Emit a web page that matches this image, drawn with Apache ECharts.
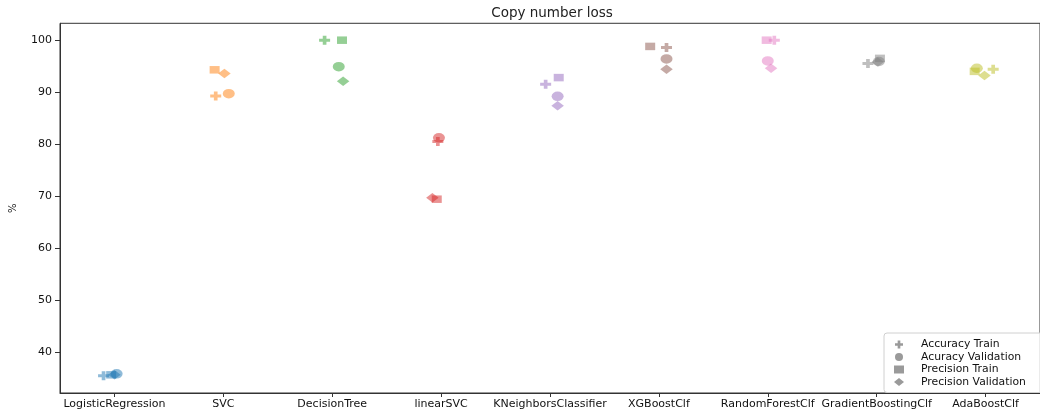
<!DOCTYPE html>
<html>
<head>
<meta charset="utf-8">
<script src="https://cdn.jsdelivr.net/npm/echarts@6/dist/echarts.min.js"></script>
<style>
  html, body { margin: 0; padding: 0; background: #fff; }
  #chart { width: 1040px; height: 410px; }
</style>
</head>
<body>
<div id="chart"></div>
<script>
// Classifiers compared on the copy-number-loss task
const categories = ['LogisticRegression', 'SVC', 'DecisionTree', 'linearSVC', 'KNeighborsClassifier',
  'XGBoostClf', 'RandomForestClf', 'GradientBoostingClf', 'AdaBoostClf'];

// Scores in percent, one value per classifier
const accuracyTrain       = [35.4, 89.25, 100.0, 80.5, 91.5, 98.6, 100.0, 95.5, 94.4];
const accuracyValidation  = [35.8, 89.7,  94.9,  81.2, 89.2, 96.4, 96.0,  95.9, 94.6];
const precisionTrain      = [35.6, 94.3, 100.0,  69.4, 92.8, 98.8, 100.0, 96.5, 94.0];
const precisionValidation = [35.6, 93.6,  92.1,  69.7, 87.4, 94.4, 94.6,  95.8, 93.2];

// Strip-plot jitter, in category units
const jitterAccTrain  = [-0.10, -0.07, -0.07, -0.03, -0.04,  0.07,  0.06, -0.08,  0.07];
const jitterAccVal    = [ 0.02,  0.05,  0.06, -0.02,  0.07,  0.07,  0.00,  0.02, -0.08];
const jitterPrecTrain = [-0.03, -0.08,  0.09, -0.04,  0.08, -0.08, -0.01,  0.03, -0.10];
const jitterPrecVal   = [ 0.00,  0.01,  0.10, -0.08,  0.07,  0.07,  0.03,  0.01, -0.01];

const yTicks = [40, 50, 60, 70, 80, 90, 100];

const palette = ['#1f77b4', '#ff7f0e', '#2ca02c', '#d62728', '#9467bd',
  '#8c564b', '#e377c2', '#7f7f7f', '#bcbd22'];

const FONT = 'DejaVu Sans';
const plusPath = 'path://M-1,-3H1V-1H3V1H1V3H-1V1H-3V-1H-1Z';

function points(values, jitter) {
  return values.map((v, i) => ({
    value: [i + jitter[i], v],
    itemStyle: { color: palette[i], opacity: 0.5 }
  }));
}

function scatter(name, symbol, size, values, jitter) {
  return {
    name, type: 'scatter', symbol, symbolSize: size,
    symbolKeepAspect: false,
    itemStyle: { color: '#9a9a9a', opacity: 1 },
    data: points(values, jitter),
    emphasis: { disabled: true }
  };
}

const chart = echarts.init(document.getElementById('chart'), null, { renderer: 'canvas' });
chart.setOption({
  animation: false,
  backgroundColor: '#fff',
  title: {
    text: 'Copy number loss',
    left: 552, top: 6, padding: 0,
    textAlign: 'center',
    textStyle: { fontFamily: FONT, fontSize: 13.5, fontWeight: 'normal', color: '#222' }
  },
  grid: {
    left: 60, right: -5, top: 23.3, bottom: 15,
    show: true, borderColor: '#333', borderWidth: 1, backgroundColor: 'transparent'
  },
  xAxis: {
    type: 'value', min: -0.5, max: 8.5, position: 'bottom',
    splitLine: { show: false },
    axisLine: { show: true, onZero: false, lineStyle: { color: '#333' } },
    axisTick: { show: true, inside: false, length: 4, lineStyle: { color: '#333' }, customValues: categories.map((c, i) => i) },
    axisLabel: {
      inside: false,
      customValues: categories.map((c, i) => i),
      formatter: v => categories[Math.round(v)],
      margin: 6, fontFamily: FONT, fontSize: 11, color: '#111'
    }
  },
  yAxis: {
    type: 'value', min: 32.1, max: 103.25, position: 'left',
    name: '%', nameLocation: 'middle', nameRotate: 90, nameGap: 42,
    nameTextStyle: { fontFamily: FONT, fontSize: 10, color: '#111' },
    splitLine: { show: false },
    axisLine: { show: true, onZero: false, lineStyle: { color: '#333' } },
    axisTick: { show: true, inside: false, length: 5, lineStyle: { color: '#333' }, customValues: yTicks },
    axisLabel: { inside: false, customValues: yTicks, margin: 8, fontFamily: FONT, fontSize: 11, color: '#111' }
  },
  legend: {
    orient: 'vertical',
    left: 884, top: 333,
    padding: [6, 30, 5, 10],
    itemWidth: 10, itemHeight: 8, itemGap: 1.5,
    borderColor: '#d0d0d0', borderWidth: 1, borderRadius: 3,
    backgroundColor: 'rgba(255,255,255,0.8)',
    textStyle: { fontFamily: FONT, fontSize: 10.8, color: '#111', padding: [0, 0, 0, 12] },
    data: ['Accuracy Train', 'Acuracy Validation', 'Precision Train', 'Precision Validation']
  },
  series: [
    scatter('Precision Validation', 'diamond', [12.5, 9.5], precisionValidation, jitterPrecVal),
    scatter('Precision Train', 'rect', [10, 7.5], precisionTrain, jitterPrecTrain),
    scatter('Acuracy Validation', 'circle', [12, 9.5], accuracyValidation, jitterAccVal),
    scatter('Accuracy Train', plusPath, [11, 9], accuracyTrain, jitterAccTrain)
  ]
});
</script>
</body>
</html>
